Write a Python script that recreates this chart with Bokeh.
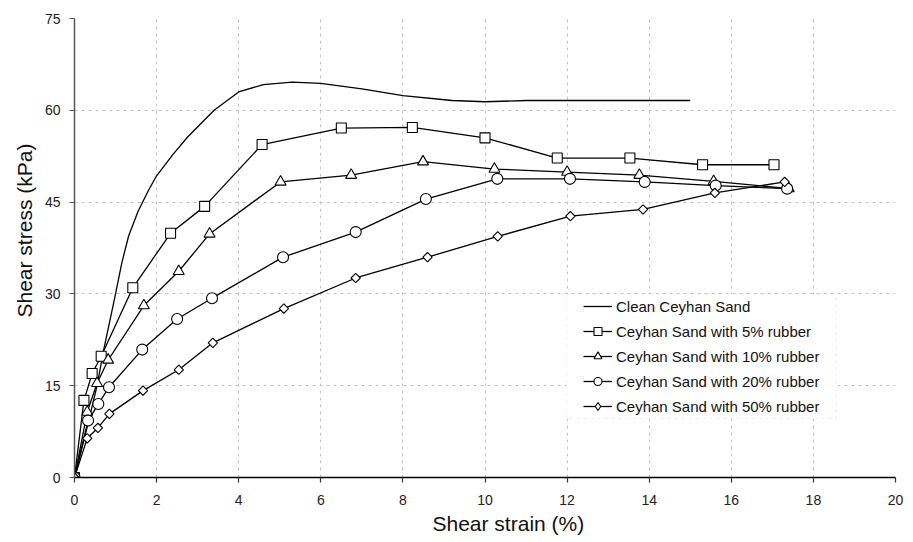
import numpy as np
from bokeh.plotting import figure
from bokeh.models import Legend, LegendItem, BoxAnnotation, Title, Range1d, FixedTicker
from bokeh.embed import file_html
from bokeh.resources import INLINE

# ---- data ----
clean_x = [0, 0.3, 0.55, 0.7, 1.0, 1.15, 1.32, 1.55, 1.8, 2.0, 2.4, 2.75, 3.4, 4.0, 4.6, 5.3, 6.0, 7.0, 8.0, 9.2, 10.0, 11.0, 12.0, 13.0, 14.0, 15.0]
clean_y = [0, 8, 15, 20.5, 30, 35, 39.5, 43.5, 46.9, 49.3, 52.8, 55.6, 60, 63, 64.2, 64.6, 64.4, 63.5, 62.4, 61.6, 61.4, 61.6, 61.6, 61.6, 61.6, 61.6]

r5_x = [0, 0.23, 0.43, 0.65, 1.42, 2.34, 3.17, 4.57, 6.5, 8.23, 10.0, 11.76, 13.53, 15.3, 17.04]
r5_y = [0, 12.6, 17.0, 19.8, 31.0, 39.9, 44.3, 54.4, 57.1, 57.2, 55.5, 52.2, 52.2, 51.1, 51.1]

r10_x = [0, 0.31, 0.55, 0.82, 1.69, 2.54, 3.29, 5.02, 6.74, 8.49, 10.23, 12.0, 13.76, 15.57, 17.4]
r10_y = [0, 10.7, 15.4, 19.2, 28.1, 33.7, 39.8, 48.3, 49.4, 51.6, 50.4, 49.9, 49.4, 48.4, 47.2]

r20_x = [0, 0.33, 0.58, 0.84, 1.65, 2.5, 3.35, 5.08, 6.85, 8.56, 10.3, 12.07, 13.89, 15.62, 17.36]
r20_y = [0, 9.3, 12.0, 14.75, 20.9, 25.9, 29.3, 36.0, 40.1, 45.5, 48.8, 48.8, 48.3, 47.7, 47.2]

r50_x = [0, 0.31, 0.57, 0.85, 1.67, 2.54, 3.37, 5.1, 6.85, 8.6, 10.31, 12.08, 13.85, 15.6, 17.3]
r50_y = [0, 6.4, 8.1, 10.4, 14.2, 17.6, 22.0, 27.6, 32.6, 36.0, 39.4, 42.7, 43.8, 46.5, 48.3]

labels = ["Clean Ceyhan Sand", "Ceyhan Sand with 5% rubber", "Ceyhan Sand with 10% rubber",
          "Ceyhan Sand with 20% rubber", "Ceyhan Sand with 50% rubber"]
x_ticks = [0, 2, 4, 6, 8, 10, 12, 14, 16, 18, 20]
y_ticks = [0, 15, 30, 45, 60, 75]
x_title = "Shear strain (%)"
y_title = "Shear stress (kPa)"

FONT = "Liberation Sans"
GRID = "#c2c2c2"

p = figure(width=913, height=542, output_backend="svg", toolbar_location=None,
           x_range=Range1d(0, 20), y_range=Range1d(0, 75),
           min_border_left=74, min_border_right=18, min_border_top=18, min_border_bottom=65)
p.outline_line_color = None
p.background_fill_color = "white"

p.xaxis.ticker = FixedTicker(ticks=x_ticks)
p.yaxis.ticker = FixedTicker(ticks=y_ticks)
for ax in (p.xaxis[0], p.yaxis[0]):
    ax.major_tick_in = 0
    ax.major_tick_out = 5
    ax.minor_tick_line_color = None
    ax.major_label_text_font = FONT
    ax.major_label_text_font_size = "14px"
    ax.major_label_text_color = "#222222"
    ax.axis_line_width = 1.5
    ax.major_tick_line_width = 1.2
p.xaxis.axis_line_color = "black"
p.xaxis.major_tick_line_color = "#333333"
p.yaxis.axis_line_color = "#555555"
p.yaxis.major_tick_line_color = "#555555"
p.xaxis.major_label_standoff = 12
p.yaxis.major_label_standoff = 9

p.xgrid.grid_line_color = GRID
p.ygrid.grid_line_color = GRID
p.xgrid.grid_line_dash = "3 4"
p.ygrid.grid_line_dash = "3 4"
p.xgrid.grid_line_width = 1
p.ygrid.grid_line_width = 1

LW = 1.3
mk = dict(fill_color="white", line_color="black", line_width=1.1)

l0 = p.line(clean_x, clean_y, line_color="black", line_width=LW)

l5 = p.line(r5_x, r5_y, line_color="black", line_width=LW)
m5 = p.scatter(r5_x, r5_y, marker="square", size=10, **mk)

l10 = p.line(r10_x, r10_y, line_color="black", line_width=LW)
m10 = p.scatter(r10_x, r10_y, marker="triangle", size=11, **mk)

l20 = p.line(r20_x, r20_y, line_color="black", line_width=LW)
m20 = p.scatter(r20_x, r20_y, marker="circle", size=11, **mk)

l50 = p.line(r50_x, r50_y, line_color="black", line_width=LW)
m50 = p.scatter(r50_x, r50_y, marker="square", angle=np.pi / 4, size=6.6, **mk)
# legend-only diamond glyph (placed outside the visible range)
m50_leg = p.scatter(x=[-100], y=[-100], marker="diamond", size=9, **mk)

# legend box (dashed frame, white fill)
box = BoxAnnotation(left=11.99, right=18.56, bottom=9.64, top=30,
                    fill_color="white", fill_alpha=1.0,
                    line_color=GRID, line_dash="3 4", line_width=1)
p.add_layout(box)

legend = Legend(items=[
    LegendItem(label=labels[0], renderers=[l0]),
    LegendItem(label=labels[1], renderers=[l5, m5]),
    LegendItem(label=labels[2], renderers=[l10, m10]),
    LegendItem(label=labels[3], renderers=[l20, m20]),
    LegendItem(label=labels[4], renderers=[l50, m50_leg]),
], location=(509, 61), padding=4, spacing=5, glyph_width=29, glyph_height=20,
    label_height=20, label_standoff=4, label_text_font=FONT, label_text_font_size="15px",
    label_text_color="#111111", border_line_color=None, background_fill_alpha=0, margin=0)
p.add_layout(legend, "center")

# axis titles
p.add_layout(Title(text=x_title, align="left", offset=358, text_font=FONT, text_font_size="21px",
                   text_font_style="normal", text_color="#111111", standoff=5), "below")
p.add_layout(Title(text=y_title, align="left", offset=160, text_font=FONT, text_font_size="21px",
                   text_font_style="normal", text_color="#111111", standoff=12), "left")

open("out.html", "w").write(file_html(p, INLINE))
